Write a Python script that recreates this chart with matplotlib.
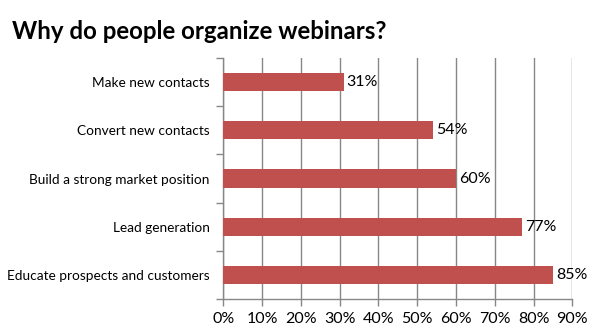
import matplotlib
matplotlib.use("Agg")
import matplotlib.pyplot as plt
from matplotlib.ticker import MultipleLocator, FuncFormatter

categories = ["Educate prospects and customers", "Lead generation",
              "Build a strong market position", "Convert new contacts",
              "Make new contacts"]
values = [85, 77, 60, 54, 31]
title = "Why do people organize webinars?"

bar_color = "#C0504D"
grid_color = "#878787"
font = "Lato"

fig = plt.figure(figsize=(6.09, 3.35), dpi=100)
ax = fig.add_axes([0.3667, 0.1066, 0.573, 0.7209])

ypos = list(range(len(categories)))
ax.barh(ypos, values, height=0.38, color=bar_color, zorder=3)
for y, v in zip(ypos, values):
    ax.text(v + 0.8, y, f"{v}%", va="center", ha="left",
            fontsize=11.5, family=font, color="black")

ax.set_xlim(0, 90)
ax.set_ylim(-0.5, len(categories) - 0.5)
ax.xaxis.set_major_locator(MultipleLocator(10))
ax.xaxis.set_major_formatter(FuncFormatter(lambda x, p: f"{int(round(x))}%"))
ax.grid(axis="x", color=grid_color, linewidth=1, zorder=0)

ax.set_yticks(ypos)
ax.set_yticklabels(categories, family=font, fontsize=9.8)
ax.set_yticks([i - 0.5 for i in range(len(categories) + 1)], minor=True)
ax.tick_params(axis="y", which="major", length=0, pad=10)
ax.tick_params(axis="y", which="minor", length=5, color=grid_color, width=1)
ax.tick_params(axis="x", length=5, color=grid_color, width=1, pad=4)
for lbl in ax.get_xticklabels():
    lbl.set_family(font)
    lbl.set_fontsize(11.5)

for s in ["top", "right"]:
    ax.spines[s].set_visible(False)
for s in ["left", "bottom"]:
    ax.spines[s].set_color(grid_color)
    ax.spines[s].set_linewidth(1)

fig.text(0.019, 0.885, title, family=font, fontweight="bold", fontsize=17.3,
         ha="left", va="baseline")

fig.savefig("out.png", dpi=100)
